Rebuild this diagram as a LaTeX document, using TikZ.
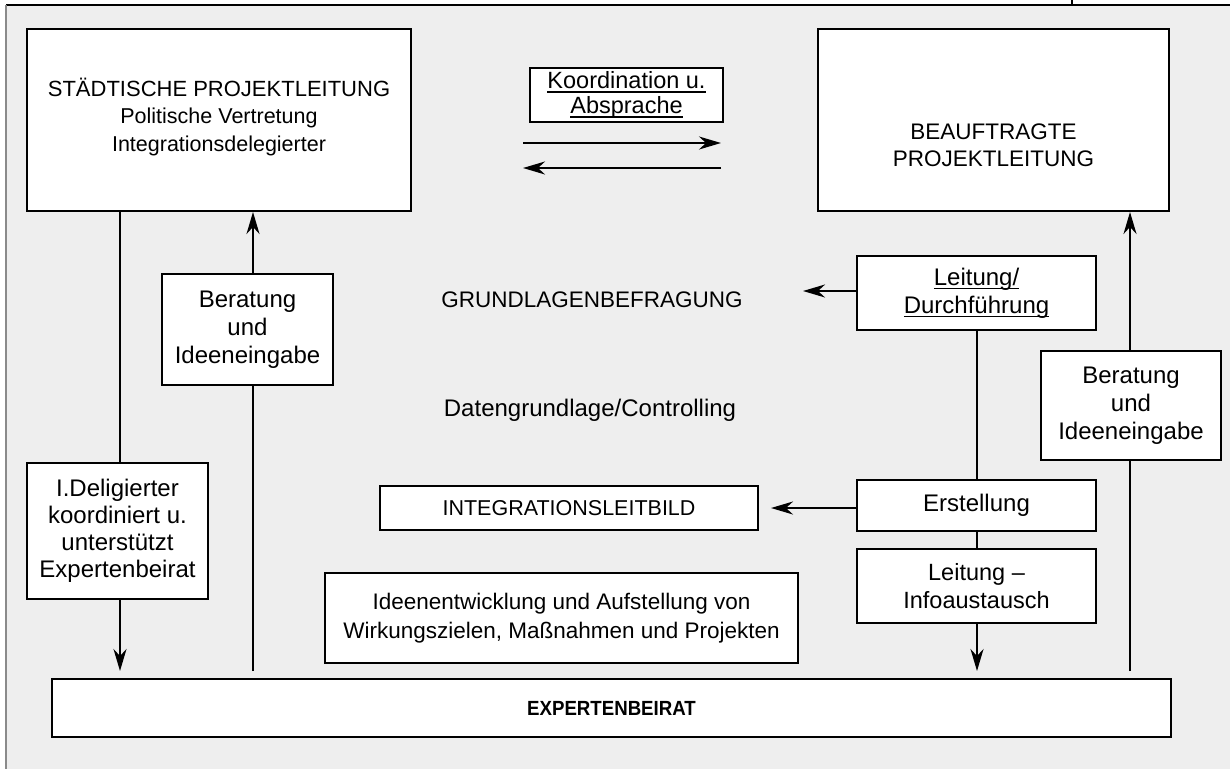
\documentclass[tikz,border=0pt]{standalone}
\usepackage{fontspec}
\usepackage{graphicx}
\setmainfont{Liberation Sans}
\usetikzlibrary{arrows.meta}
\definecolor{bgc}{HTML}{EEEEEE}
\definecolor{edgegray}{HTML}{8A8A8A}
\newcommand\myul[1]{\setbox0\hbox{#1}\rlap{\rule[-4pt]{\wd0}{1.3pt}}\box0}
\begin{document}
\begin{tikzpicture}[x=1pt,y=-1pt,
  box/.style={draw, fill=white, line width=2pt, inner sep=0pt, align=center, font=\fontsize{24}{28}\selectfont},
  bodyf/.style={align=center, inner sep=0pt, font=\fontsize{24}{28}\selectfont},
  capsf/.style={align=center, inner sep=0pt, font=\fontsize{22.5}{27}\selectfont},
  lnk/.style={line width=2pt},
  arr/.style={line width=2pt, -{Stealth[length=22pt,width=13pt,inset=7pt]}},
]
\useasboundingbox (0,0) rectangle (1230,769);
\fill[bgc] (6,5) rectangle (1230,769);
\draw[line width=1.5pt] (6,5) -- (1230,5);
\draw[line width=1.2pt] (1072,0) -- (1072,5);
\draw[edgegray, line width=2pt] (6,5) -- (6,769);

% boxes
\node[box, minimum width=384pt, minimum height=182pt] (stadt) at (219,120) {};
\node[align=center, inner sep=0pt, font=\fontsize{21.5}{27.5}\selectfont] (stadtT) at ([yshift=3pt]stadt.center) {{\fontsize{22}{27.5}\selectfont STÄDTISCHE PROJEKTLEITUNG}\\Politische Vertretung\\Integrationsdelegierter};
\node[box, minimum width=351pt, minimum height=182pt] (beauf) at (993.5,120) {};
\node[capsf] (beaufT) at ([yshift=-25pt]beauf.center) {BEAUFTRAGTE\\PROJEKTLEITUNG};
\node[box, minimum width=193pt, minimum height=54pt, font=\fontsize{23.5}{25}\selectfont] (koord) at (626.5,95) {\myul{Koordination u.}\\\myul{Absprache}};
\node[box, minimum width=239pt, minimum height=74pt] (leitD) at (976.5,293) {\myul{Leitung/}\\\myul{Durchführung}};
\node[box, minimum width=171pt, minimum height=111pt] (beratL) at (247.5,329.5) {Beratung\\und\\Ideeneingabe};
\node[box, minimum width=180pt, minimum height=109pt] (beratR) at (1131,405.5) {Beratung\\und\\Ideeneingabe};
\node[box, minimum width=181pt, minimum height=136pt, font=\fontsize{24}{27}\selectfont] (idel) at (117.5,531) {I.Deligierter\\koordiniert u.\\unterstützt\\Expertenbeirat};
\node[box, minimum width=378pt, minimum height=44pt, font=\fontsize{21.5}{27}\selectfont] (integ) at (569,508) {INTEGRATIONSLEITBILD};
\node[box, minimum width=239pt, minimum height=51pt] (erst) at (976.5,505.5) {Erstellung};
\node[box, minimum width=239pt, minimum height=74pt, font=\fontsize{23.5}{28}\selectfont] (leitI) at (976.5,586) {Leitung –\\Infoaustausch};
\node[box, minimum width=473pt, minimum height=90pt, font=\fontsize{22.5}{29}\selectfont] (ideen) at (561.5,618) {Ideenentwicklung und Aufstellung von\\Wirkungszielen, Maßnahmen und Projekten};
\node[box, minimum width=1119pt, minimum height=58pt] (expert) at (611.5,708) {\scalebox{0.91}[1]{\fontsize{20.5}{22}\selectfont\bfseries EXPERTENBEIRAT}};

% free texts
\node[capsf] (grund) at (592,300) {GRUNDLAGENBEFRAGUNG};
\node[bodyf] (daten) at (590,410) {Datengrundlage/Controlling};

% coordinates
\coordinate (xa) at (120,0);
\coordinate (xb) at (253,0);
\coordinate (xc) at (977,0);
\coordinate (xd) at (1130,0);
\coordinate (kr1) at (523,143);
\coordinate (kr2) at (721,143);
\coordinate (kl1) at (721,168);
\coordinate (kl2) at (523,168);
\coordinate (gtip) at (803,291);

% connectors
\draw[arr] (kr1) -- (kr2);
\draw[arr] (kl1) -- (kl2);
\draw[arr] (leitD.west |- gtip) -- (gtip);
\draw[arr, shorten >=12pt] (erst.west |- integ.east) -- (integ.east);

\draw[lnk] (xa |- stadt.south) -- (xa |- idel.north);
\draw[arr, shorten >=7pt] (xa |- idel.south) -- (xa |- expert.north);

\draw[lnk, shorten <=7pt] (xb |- expert.north) -- (xb |- beratL.south);
\draw[arr] (xb |- beratL.north) -- (xb |- stadt.south);

\draw[lnk] (xc |- leitD.south) -- (xc |- erst.north);
\draw[lnk] (xc |- erst.south) -- (xc |- leitI.north);
\draw[arr, shorten >=7pt] (xc |- leitI.south) -- (xc |- expert.north);

\draw[lnk, shorten <=7pt] (xd |- expert.north) -- (xd |- beratR.south);
\draw[arr] (xd |- beratR.north) -- (xd |- beauf.south);
\end{tikzpicture}
\end{document}
